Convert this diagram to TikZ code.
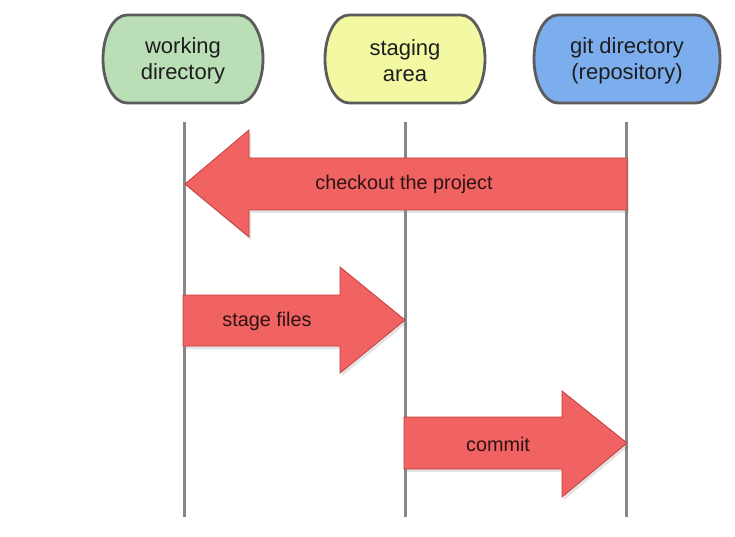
\documentclass[tikz,border=0pt]{standalone}
\usepackage{fontspec}
\setmainfont{Liberation Sans}
\usetikzlibrary{shadows}
\definecolor{wdfill}{RGB}{186,222,182}
\definecolor{safill}{RGB}{242,249,162}
\definecolor{gdfill}{RGB}{124,173,236}
\definecolor{boxline}{RGB}{92,92,92}
\definecolor{arrfill}{RGB}{241,98,98}
\definecolor{arrline}{RGB}{196,62,62}
\definecolor{lifeline}{RGB}{135,135,135}
\definecolor{txt}{RGB}{30,30,30}
\definecolor{arrtxt}{RGB}{45,20,20}
\tikzset{
  boxtext/.style={align=center, font=\fontsize{22}{26}\selectfont, text=txt, inner sep=0pt},
  capsuleline/.style={draw=boxline, line width=2.8pt},
  lifelinestyle/.style={draw=lifeline, line width=3pt},
  bigarrow/.style={fill=arrfill, draw=arrline, line width=0.8pt, line join=miter,
    drop shadow={opacity=0.22, shadow xshift=2pt, shadow yshift=-3pt}},
  arrowtext/.style={font=\fontsize{19.8}{24}\selectfont, text=arrtxt, inner sep=0pt},
}
\newcommand\capsuleshape[4]{% cx, halfwidth, corner rx, fill
  \draw[capsuleline, fill=#4] (#1-#2+#3,15) -- (#1+#2-#3,15)
    arc[start angle=90, end angle=-90, x radius=#3pt, y radius=44pt]
    -- (#1-#2+#3,103)
    arc[start angle=270, end angle=90, x radius=#3pt, y radius=44pt] -- cycle;
}
\begin{document}
\begin{tikzpicture}[x=1pt, y=-1pt]
\useasboundingbox (0,0) rectangle (735,537);
\fill[white] (0,0) rectangle (735,537);

% top boxes
\capsuleshape{183}{80}{24}{wdfill}
\node[boxtext] (wd) at (183,61) {working\\directory};
\capsuleshape{405}{80}{24}{safill}
\node[boxtext] (sa) at (405,61) {staging\\area};
\capsuleshape{627}{93}{24}{gdfill}
\node[boxtext] (gd) at (627,61) {git directory\\(repository)};

% lifelines
\coordinate (wdtop) at (184,122);
\coordinate (satop) at (405,122);
\coordinate (gdtop) at (626,122);
\coordinate (wdend) at (184,517);
\coordinate (saend) at (405,517);
\coordinate (gdend) at (626,517);
\draw[lifelinestyle] (wdtop) -- (wdend);
\draw[lifelinestyle] (satop) -- (saend);
\draw[lifelinestyle] (gdtop) -- (gdend);

% checkout arrow
\draw[bigarrow] (185,184) -- (249,130) -- (249,158) -- (627,158) -- (627,210)
  -- (249,210) -- (249,237) -- cycle;
\node[arrowtext] (co) at (404,184) {checkout the project};

% stage files arrow
\draw[bigarrow] (183,295) -- (340,295) -- (340,267) -- (405,320) -- (340,373)
  -- (340,346) -- (183,346) -- cycle;
\node[arrowtext] (sf) at (267,321) {stage files};

% commit arrow
\draw[bigarrow] (404,417) -- (562,417) -- (562,391) -- (627,443) -- (562,497)
  -- (562,469) -- (404,469) -- cycle;
\node[arrowtext] (cm) at (498,444) {commit};
\end{tikzpicture}
\end{document}
